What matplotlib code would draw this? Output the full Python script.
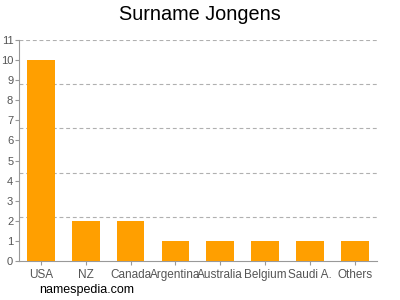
import matplotlib
matplotlib.use("Agg")
import matplotlib.pyplot as plt

categories = ["USA", "NZ", "Canada", "Argentina", "Australia", "Belgium", "Saudi A.", "Others"]
values = [10, 2, 2, 1, 1, 1, 1, 1]
yticks = list(range(0, 12))
gridlevels = [2.2, 4.4, 6.6, 8.8, 11]

plt.rcParams['font.family'] = ['Liberation Sans', 'DejaVu Sans']
fig = plt.figure(figsize=(4, 3), dpi=100)
ax = fig.add_axes([0.047, 0.13, 0.8955, 0.7367])

x = range(len(categories))
ax.bar(x, values, width=0.62, color="#ff9f00", zorder=3)
for g in gridlevels:
    ax.axhline(g, color="#b0b0b0", lw=0.8, ls=(0, (3.5, 2.5)), zorder=1)

ax.set_xlim(-0.49, 7.49)
ax.set_ylim(0, 11)
ax.set_yticks(yticks)
ax.set_xticks(list(x))
ax.set_xticklabels(categories)
ax.tick_params(axis='both', colors="#999999", labelcolor="#555555", length=3, width=0.8)
ax.tick_params(axis='x', labelsize=8.5, pad=3)
ax.tick_params(axis='y', labelsize=8, pad=1)
for s in ["top", "right"]:
    ax.spines[s].set_visible(False)
for s in ["left", "bottom"]:
    ax.spines[s].set_color("#999999")
    ax.spines[s].set_linewidth(0.8)

fig.text(0.5, 0.95, "Surname Jongens", ha="center", va="center", fontsize=14.3, color="#000000")
fig.text(0.098, 0.033, "namespedia.com", ha="left", va="center", fontsize=9, color="#000000")

fig.savefig("out.png", dpi=100)
